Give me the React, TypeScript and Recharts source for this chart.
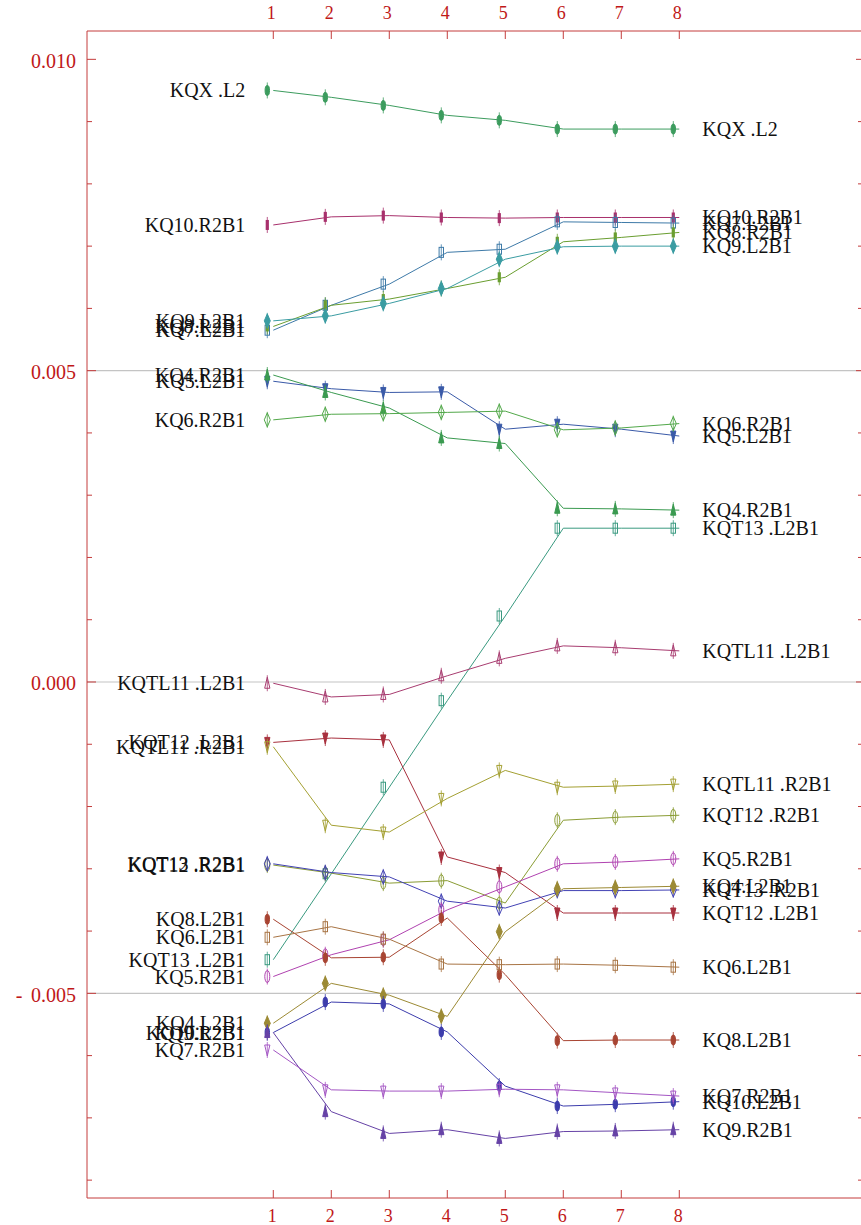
import React from 'react';
import { LineChart, Line, XAxis, YAxis, ReferenceLine } from 'recharts';

// ---------- data ----------
const positions = [1, 2, 3, 4, 5, 6, 7, 8];

const kqxL2 = [0.0095, 0.00939, 0.00926, 0.0091, 0.00902, 0.00888, 0.00888, 0.00888];
const kq10R2B1 = [0.00734, 0.00747, 0.00749, 0.00746, 0.00745, 0.00746, 0.00746, 0.00746];
const kq7L2B1 = [0.00565, 0.00605, 0.00639, 0.0069, 0.00695, 0.00739, 0.00738, 0.00737];
const kq8R2B1 = [0.00571, 0.00605, 0.00615, 0.00632, 0.0065, 0.00707, 0.00714, 0.00722];
const kq9L2B1 = [0.0058, 0.00588, 0.00608, 0.00632, 0.00679, 0.00699, 0.007, 0.007];
const kq5L2B1 = [0.00483, 0.00471, 0.00465, 0.00466, 0.00406, 0.00414, 0.00406, 0.00395];
const kq4R2B1 = [0.00493, 0.00465, 0.0044, 0.00392, 0.00383, 0.00279, 0.00278, 0.00276];
const kq6R2B1 = [0.00421, 0.0043, 0.00431, 0.00433, 0.00435, 0.00405, 0.00408, 0.00415];
const kqt13L2B1 = [-0.00446, -0.00308, -0.00169, -0.0003, 0.00106, 0.00247, 0.00247, 0.00247];
const kqtl11L2B1 = [-0.00002, -0.00024, -0.0002, 0.0001, 0.00038, 0.00058, 0.00055, 0.0005];
const kqt12L2B1 = [-0.00097, -0.0009, -0.00093, -0.00281, -0.00306, -0.00371, -0.00371, -0.00371];
const kqtl11R2B1 = [-0.00104, -0.0023, -0.00241, -0.00187, -0.00142, -0.00169, -0.00167, -0.00164];
const kqt12R2B1 = [-0.00294, -0.00307, -0.00323, -0.00319, -0.00355, -0.00222, -0.00217, -0.00214];
const kqt13R2B1 = [-0.00292, -0.00306, -0.00313, -0.00352, -0.00363, -0.00335, -0.00335, -0.00334];
const kq5R2B1 = [-0.00473, -0.00438, -0.00414, -0.00366, -0.00329, -0.00292, -0.00289, -0.00284];
const kq4L2B1 = [-0.00548, -0.00484, -0.00503, -0.00537, -0.00401, -0.00332, -0.0033, -0.00328];
const kq8L2B1 = [-0.00381, -0.00443, -0.00442, -0.00379, -0.0047, -0.00576, -0.00575, -0.00575];
const kq6L2B1 = [-0.0041, -0.00393, -0.00413, -0.00453, -0.00454, -0.00453, -0.00455, -0.00458];
const kq10L2B1 = [-0.00563, -0.00514, -0.00517, -0.00562, -0.00649, -0.00681, -0.00678, -0.00674];
const kq9R2B1 = [-0.00563, -0.0069, -0.00725, -0.00719, -0.00733, -0.00722, -0.00721, -0.00719];
const kq7R2B1 = [-0.00591, -0.00655, -0.00657, -0.00657, -0.00654, -0.00655, -0.0066, -0.00665];

const yTicks = [
  -0.008, -0.007, -0.006, -0.005, -0.004, -0.003, -0.002, -0.001, 0,
  0.001, 0.002, 0.003, 0.004, 0.005, 0.006, 0.007, 0.008, 0.009, 0.01,
];
const gridValues = [0.005, 0, -0.005];

// ---------- series styling ----------
type MarkerKind = 'fell' | 'oell' | 'fdia' | 'odia' | 'fbar' | 'orect' | 'fup' | 'oup' | 'fdown' | 'odown';

const seriesDefs: { key: string; label: string; values: number[]; color: string; marker: MarkerKind }[] = [
  { key: 'kqxL2', label: 'KQX .L2', values: kqxL2, color: '#3c9c5e', marker: 'fell' },
  { key: 'kq10R2B1', label: 'KQ10.R2B1', values: kq10R2B1, color: '#a8306c', marker: 'fbar' },
  { key: 'kq7L2B1', label: 'KQ7.L2B1', values: kq7L2B1, color: '#3e7aa8', marker: 'orect' },
  { key: 'kq8R2B1', label: 'KQ8.R2B1', values: kq8R2B1, color: '#6a9e30', marker: 'fbar' },
  { key: 'kq9L2B1', label: 'KQ9.L2B1', values: kq9L2B1, color: '#3a9ca2', marker: 'fdia' },
  { key: 'kq5L2B1', label: 'KQ5.L2B1', values: kq5L2B1, color: '#3a5aa8', marker: 'fdown' },
  { key: 'kq4R2B1', label: 'KQ4.R2B1', values: kq4R2B1, color: '#3a9a50', marker: 'fup' },
  { key: 'kq6R2B1', label: 'KQ6.R2B1', values: kq6R2B1, color: '#52a84a', marker: 'odia' },
  { key: 'kqt13L2B1', label: 'KQT13 .L2B1', values: kqt13L2B1, color: '#3a9a80', marker: 'orect' },
  { key: 'kqtl11L2B1', label: 'KQTL11 .L2B1', values: kqtl11L2B1, color: '#a83c70', marker: 'oup' },
  { key: 'kqt12L2B1', label: 'KQT12 .L2B1', values: kqt12L2B1, color: '#a8303e', marker: 'fdown' },
  { key: 'kqtl11R2B1', label: 'KQTL11 .R2B1', values: kqtl11R2B1, color: '#a4a032', marker: 'odown' },
  { key: 'kqt12R2B1', label: 'KQT12 .R2B1', values: kqt12R2B1, color: '#8a9c34', marker: 'oell' },
  { key: 'kqt13R2B1', label: 'KQT13 .R2B1', values: kqt13R2B1, color: '#4242b4', marker: 'odia' },
  { key: 'kq5R2B1', label: 'KQ5.R2B1', values: kq5R2B1, color: '#b042b0', marker: 'oell' },
  { key: 'kq4L2B1', label: 'KQ4.L2B1', values: kq4L2B1, color: '#9c8a34', marker: 'fdia' },
  { key: 'kq8L2B1', label: 'KQ8.L2B1', values: kq8L2B1, color: '#a84432', marker: 'fell' },
  { key: 'kq6L2B1', label: 'KQ6.L2B1', values: kq6L2B1, color: '#a87444', marker: 'orect' },
  { key: 'kq10L2B1', label: 'KQ10.L2B1', values: kq10L2B1, color: '#3c3cac', marker: 'fell' },
  { key: 'kq9R2B1', label: 'KQ9.R2B1', values: kq9R2B1, color: '#6642a6', marker: 'fup' },
  { key: 'kq7R2B1', label: 'KQ7.R2B1', values: kq7R2B1, color: '#a456c4', marker: 'odown' },
];

const chartData = positions.map((p, i) => {
  const row: Record<string, number> = { pos: p };
  seriesDefs.forEach((s) => {
    row[s.key] = s.values[i];
  });
  return row;
});

// ---------- layout ----------
const CHART_W = 861;
const CHART_H = 1225;
const PLOT_LEFT = 87;
const PLOT_TOP = 31;
const PLOT_BOTTOM = 1198;
const AXIS_COLOR = '#c43c3c';
const TICK_TEXT = '#c01818';
const FONT = '"Liberation Serif", "DejaVu Serif", serif';

const X_DOMAIN: [number, number] = [-2.212, 11.133];
const Y_DOMAIN: [number, number] = [-0.008287, 0.010455];

function Marker({ kind, x, y, color }: { kind: MarkerKind; x: number; y: number; color: string }) {
  const open = kind[0] === 'o';
  const fill = open ? 'none' : color;
  const sw = 1;
  let shape: React.ReactNode = null;
  switch (kind) {
    case 'fell':
    case 'oell':
      shape = <ellipse cx={x} cy={y} rx={open ? 2.5 : 2.2} ry={open ? 6 : 5} fill={fill} stroke={color} strokeWidth={sw} />;
      break;
    case 'fdia':
    case 'odia':
      shape = (
        <polygon
          points={`${x},${y - 7} ${x + 3},${y} ${x},${y + 7} ${x - 3},${y}`}
          fill={fill}
          stroke={color}
          strokeWidth={sw}
        />
      );
      break;
    case 'fbar':
      shape = <rect x={x - 1.6} y={y - 5} width={3.2} height={10} fill={color} />;
      break;
    case 'orect':
      shape = <rect x={x - 2.2} y={y - 5} width={4.4} height={10} fill="none" stroke={color} strokeWidth={sw} />;
      break;
    case 'fup':
    case 'oup':
      shape = (
        <polygon
          points={`${x},${y - 6} ${x + 2.6},${y + 5} ${x - 2.6},${y + 5}`}
          fill={fill}
          stroke={color}
          strokeWidth={sw}
        />
      );
      break;
    case 'fdown':
    case 'odown':
      shape = (
        <polygon
          points={`${x - 2.6},${y - 5} ${x + 2.6},${y - 5} ${x},${y + 6}`}
          fill={fill}
          stroke={color}
          strokeWidth={sw}
        />
      );
      break;
  }
  return (
    <g>
      <line x1={x} x2={x} y1={y - 8} y2={y + 8} stroke={color} strokeWidth={0.8} />
      {shape}
    </g>
  );
}

function makeDot(def: (typeof seriesDefs)[number]) {
  const last = def.values.length - 1;
  return (props: any) => {
    const { cx, cy, index } = props;
    if (cx == null || cy == null) return <g key={`d-${def.key}-${index}`} />;
    return (
      <g key={`d-${def.key}-${index}`}>
        <Marker kind={def.marker} x={cx - 6} y={cy} color={def.color} />
        {index === 0 && (
          <text
            x={cx - 28}
            y={cy}
            textAnchor="end"
            dominantBaseline="central"
            fontFamily={FONT}
            fontSize={20}
            fill="#111"
          >
            {def.label}
          </text>
        )}
        {index === last && (
          <text
            x={cx + 23}
            y={cy}
            textAnchor="start"
            dominantBaseline="central"
            fontFamily={FONT}
            fontSize={20}
            fill="#111"
          >
            {def.label}
          </text>
        )}
      </g>
    );
  };
}

const YTick = (props: any) => {
  const { y, payload } = props;
  const v = payload.value as number;
  const k = Math.round(v * 1000);
  const major = k % 5 === 0;
  const label = Math.abs(v).toFixed(3);
  return (
    <g>
      <line x1={PLOT_LEFT} x2={PLOT_LEFT + (major ? 9 : 5)} y1={y} y2={y} stroke={AXIS_COLOR} strokeWidth={1} />
      <line x1={CHART_W} x2={CHART_W - (major ? 5 : 3)} y1={y} y2={y} stroke={AXIS_COLOR} strokeWidth={1} />
      {major && (
        <text
          x={PLOT_LEFT - 11}
          y={y + 1.5}
          textAnchor="end"
          dominantBaseline="central"
          fontFamily={FONT}
          fontSize={20}
          fill={TICK_TEXT}
        >
          {label}
        </text>
      )}
      {major && k < 0 && (
        <text x={19} y={y + 1.5} textAnchor="middle" dominantBaseline="central" fontFamily={FONT} fontSize={20} fill={TICK_TEXT}>
          -
        </text>
      )}
    </g>
  );
};

const TopTick = (props: any) => {
  const { x, payload } = props;
  return (
    <g>
      <line x1={x} x2={x} y1={PLOT_TOP} y2={PLOT_TOP + 8} stroke={AXIS_COLOR} strokeWidth={1} />
      <text x={x - 2} y={19} textAnchor="middle" fontFamily={FONT} fontSize={18} fill={TICK_TEXT}>
        {payload.value}
      </text>
    </g>
  );
};

const BottomTick = (props: any) => {
  const { x, payload } = props;
  return (
    <g>
      <line x1={x} x2={x} y1={PLOT_BOTTOM} y2={PLOT_BOTTOM - 8} stroke={AXIS_COLOR} strokeWidth={1} />
      <text x={x - 1} y={1222} textAnchor="middle" fontFamily={FONT} fontSize={18} fill={TICK_TEXT}>
        {payload.value}
      </text>
    </g>
  );
};

export default function App() {
  return (
    <div style={{ position: 'absolute', left: 0, top: 0, width: CHART_W, height: CHART_H, background: '#fff', overflow: 'hidden' }}>
      <LineChart width={CHART_W} height={CHART_H} data={chartData} margin={{ top: 0, right: 0, bottom: 0, left: 0 }}>
        <XAxis
          xAxisId="top"
          orientation="top"
          dataKey="pos"
          type="number"
          domain={X_DOMAIN}
          allowDataOverflow
          ticks={positions}
          height={PLOT_TOP}
          tickSize={0}
          tickMargin={0}
          tickLine={false}
          axisLine={{ stroke: AXIS_COLOR, strokeWidth: 1 }}
          tick={<TopTick />}
          interval={0}
        />
        <XAxis
          xAxisId="bottom"
          orientation="bottom"
          dataKey="pos"
          type="number"
          domain={X_DOMAIN}
          allowDataOverflow
          ticks={positions}
          height={CHART_H - PLOT_BOTTOM}
          tickSize={0}
          tickMargin={0}
          tickLine={false}
          axisLine={{ stroke: AXIS_COLOR, strokeWidth: 1 }}
          tick={<BottomTick />}
          interval={0}
        />
        <YAxis
          yAxisId="left"
          orientation="left"
          type="number"
          domain={Y_DOMAIN}
          allowDataOverflow
          ticks={yTicks}
          width={PLOT_LEFT}
          tickSize={0}
          tickMargin={0}
          tickLine={false}
          axisLine={{ stroke: AXIS_COLOR, strokeWidth: 1 }}
          tick={<YTick />}
          interval={0}
        />
        {gridValues.map((g) => (
          <ReferenceLine key={`g${g}`} xAxisId="bottom" yAxisId="left" y={g} stroke="#c4c4c4" strokeWidth={1.2} />
        ))}
        {seriesDefs.map((s) => (
          <Line
            key={s.key}
            xAxisId="bottom"
            yAxisId="left"
            type="linear"
            dataKey={s.key}
            stroke={s.color}
            strokeWidth={1}
            dot={makeDot(s)}
            activeDot={false}
            isAnimationActive={false}
          />
        ))}
      </LineChart>
    </div>
  );
}
